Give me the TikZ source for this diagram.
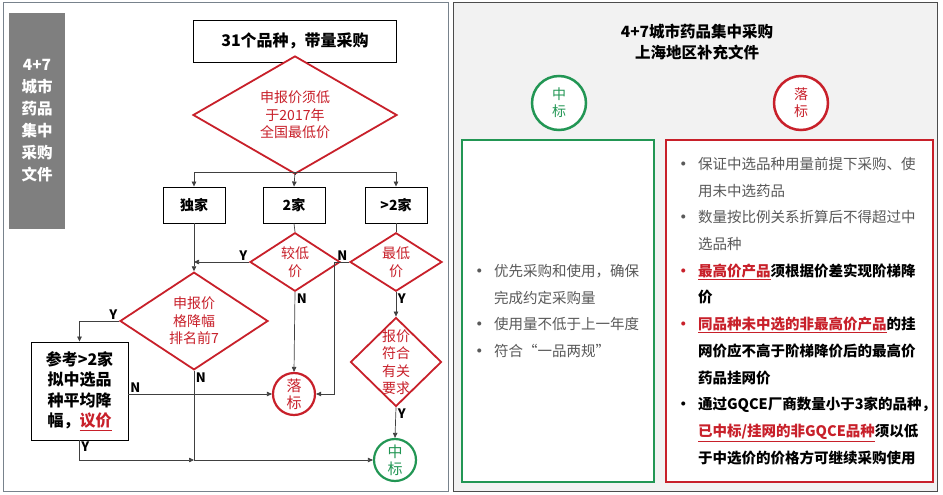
\documentclass[tikz,border=0pt]{standalone}
\usepackage{fontspec}
\setmainfont{Noto Sans CJK SC}
\usepackage{xcolor}
\usepackage{tikz}
\usetikzlibrary{shapes.geometric, arrows.meta, positioning}

\definecolor{lossred}{RGB}{200,32,42}
\definecolor{wingreen}{RGB}{34,150,84}
\definecolor{sidegray}{RGB}{127,127,127}
\definecolor{paper}{RGB}{242,242,242}
\definecolor{bodygray}{RGB}{89,89,89}
\definecolor{wire}{RGB}{64,64,64}
\definecolor{frame}{RGB}{120,130,140}

\newcommand\bulletline[2][bodygray]{\makebox[22pt][l]{\textcolor{#1}{\bfseries •}}#2}
\newcommand\contline[1]{\hspace*{22pt}#1}
\newcommand\marked[1]{\textcolor{lossred}{\underline{#1}}}

\begin{document}
\begin{tikzpicture}[x=1pt, y=-1pt,
    box/.style={draw=black, line width=0.9pt, fill=white, align=center, inner sep=0pt,
        font=\fontsize{15}{18}\selectfont\bfseries},
    sidebox/.style={fill=sidegray, text=white, align=center, minimum width=56, minimum height=216,
        font=\fontsize{15.5}{22}\selectfont\bfseries},
    choicebox/.style={box, minimum width=62, minimum height=36, font=\fontsize{14}{17}\selectfont\bfseries},
    talkbox/.style={box, minimum width=97, minimum height=98, font=\fontsize{16}{20.3}\selectfont\bfseries},
    decide/.style={diamond, draw=lossred, line width=1.8pt, fill=white, text=lossred, align=center,
        inner sep=0pt, font=\fontsize{14}{17.5}\selectfont},
    endpoint/.style={circle, line width=2.2pt, fill=white, align=center, inner sep=0pt,
        font=\fontsize{15}{17}\selectfont},
    losenode/.style={endpoint, draw=lossred, text=lossred},
    winnode/.style={endpoint, draw=wingreen, text=wingreen},
    arrow/.style={-{Triangle[length=5pt, width=4.5pt]}, wire, line width=0.7pt},
    link/.style={wire, line width=0.7pt},
    yn/.style={font=\fontsize{13}{13}\selectfont\bfseries, text=black, inner sep=1.5pt},
    listbox/.style={fill=white, line width=1.3pt, align=left, inner xsep=10pt, inner ysep=0pt,
        minimum height=342, text=bodygray, font=\fontsize{14.5}{26.7}\selectfont}
]
    \useasboundingbox (0,0) rectangle (943,495);

    % two panels
    \draw[frame, line width=1pt] (3,3) rectangle (448,491);
    \draw[black!70, fill=paper, line width=1pt] (453,3) rectangle (937,491);

    % left: flow chart
    \node[sidebox] (side) at (37,121) {4+7\\城市\\药品\\集中\\采购\\文件};

    \node[box, minimum width=203, minimum height=42, font=\fontsize{16}{18}\selectfont\bfseries] (start) at (295,41) {31个品种，带量采购};
    \node[decide, minimum width=204, minimum height=78] (floor) at (295,115) {申报价须低\\于2017年\\全国最低价};

    \node[choicebox] (only) at (194,205) {独家};
    \node[choicebox] (two) at (294,205) {2家};
    \node[choicebox] (many) at (396,205) {>2家};

    \node[decide, minimum width=90, minimum height=55] (cheaper) at (295,262) {较低\\价};
    \node[decide, minimum width=92, minimum height=55] (lowest) at (396,262) {最低\\价};
    \node[decide, minimum width=148, minimum height=78] (rank) at (194,321) {申报价\\格降幅\\排名前7};
    \node[decide, minimum width=91, minimum height=89, inner sep=-4pt] (comply) at (396,362) {报价\\符合\\有关\\要求};

    \node[talkbox] (talk) at (79.5,391) {参考>2家\\拟中选品\\种平均降\\幅，\marked{议价}};

    \node[losenode, minimum size=42] (lose) at (294,394) {落\\标};
    \node[winnode, minimum size=42] (win) at (395,460) {中\\标};

    \coordinate (split) at (295,172);
    \coordinate (joint) at (334,262);

    \draw[link] (floor.south) -- (split);
    \draw[arrow] (split) -| (only.north);
    \draw[arrow] (split) -- (two.north);
    \draw[arrow] (split) -| (many.north);

    \draw[arrow] (only.south) -- (rank.north);
    \draw[link] (two.south) -- (cheaper.north);
    \draw[link] (many.south) -- (lowest.north);

    \draw[arrow] (cheaper.west) node[yn, above left] {Y} -- (cheaper.west -| only.south);
    \draw[arrow] (cheaper.south) node[yn, below right] {N} -- (lose.north);
    \draw[arrow] (lowest.west) node[yn, above left] {N} -- (joint) |- (lose.east);
    \draw[arrow] (lowest.south) node[yn, below right] {Y} -- (comply.north);
    \draw[arrow] (comply.south) node[yn, below right] {Y} -- (win.north);

    \draw[arrow] (rank.west) node[yn, above left] {Y} -| (talk.north);
    \draw[arrow] (rank.south) node[yn, below right] {N} -- (rank.south |- win.west) -- (win.west);
    \draw[arrow] (talk.south) node[yn, below right] {Y} |- (rank.south |- win.west);
    \draw[arrow] (talk.east |- lose.west) node[yn, above right] {N} -- (lose.west);

    % right: Shanghai rules
    \node[font=\fontsize{15.5}{21}\selectfont\bfseries, align=center] (head) at (697,42) {4+7城市药品集中采购\\上海地区补充文件};

    \node[winnode, minimum size=54, line width=2.5pt, font=\fontsize{14}{17}\selectfont] (winmark) at (559,103) {中\\标};
    \node[losenode, minimum size=54, line width=2.5pt, font=\fontsize{14}{17}\selectfont] (losemark) at (801,103) {落\\标};

    \node[listbox, draw=wingreen, text width=172] (winlist) at (558,311) {%
        \bulletline{优先采购和使用，确保}\\
        \contline{完成约定采购量}\\
        \bulletline{使用量不低于上一年度}\\
        \bulletline{符合“一品两规”}};

    \node[listbox, draw=lossred, text width=247] (loselist) at (799.5,311) {%
        \bulletline{保证中选品种用量前提下采购、使}\\
        \contline{用未中选药品}\\
        \bulletline{数量按比例关系折算后不得超过中}\\
        \contline{选品种}\\
        \bulletline[lossred]{\bfseries\color{black}\marked{最高价产品}须根据价差实现阶梯降}\\
        \contline{\bfseries\color{black}价}\\
        \bulletline[lossred]{\bfseries\color{black}\marked{同品种未中选的非最高价产品}的挂}\\
        \contline{\bfseries\color{black}网价应不高于阶梯降价后的最高价}\\
        \contline{\bfseries\color{black}药品挂网价}\\
        \bulletline[black]{\bfseries\color{black}通过GQCE厂商数量小于3家的品种，}\\
        \contline{\bfseries\color{black}\marked{已中标/挂网的非GQCE品种}须以低}\\
        \contline{\bfseries\color{black}于中选价的价格方可继续采购使用}};

\end{tikzpicture}
\end{document}
